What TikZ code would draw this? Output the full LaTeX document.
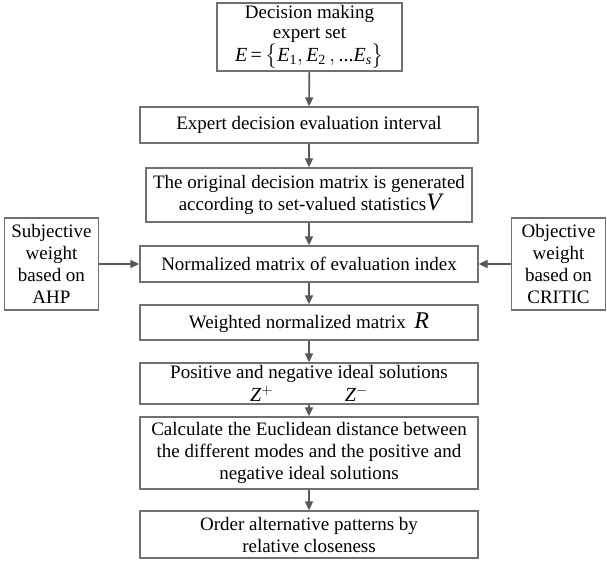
\documentclass[tikz,border=0pt]{standalone}
\usepackage{amsmath}
\usepackage{fontspec}
\setmainfont{Liberation Serif}
\usepackage{tikz}
\usetikzlibrary{arrows.meta}
\definecolor{boxgray}{RGB}{112,112,112}
\definecolor{arrgray}{RGB}{88,88,88}

\begin{document}
\begin{tikzpicture}[
  x=1pt,y=-1pt,
  box/.style={draw=boxgray,line width=1.3pt,align=center,inner sep=0pt,minimum width=338pt,font=\fontsize{19}{22}\selectfont},
  side/.style={box,minimum width=94pt,minimum height=92pt},
  arr/.style={-{Triangle[length=9pt,width=8pt]},line width=1.6pt,arrgray},
]
  \useasboundingbox (0,0) rectangle (607,561);

  \node[box,minimum width=185pt,minimum height=68pt,font=\fontsize{19}{20}\selectfont] (top) at (309.5,37) {Decision making\\expert set\\[1pt]
    {\fontsize{20}{20}\selectfont\textit{E}\,=\,$\bigl\{\textit{E}_{\textrm{1}},\textit{E}_{\textrm{2}}\,,\textrm{...}\textit{E}_{\textit{s}}\bigr\}$}};
  \node[box,minimum height=36pt] (eval) at (309,125) {Expert decision evaluation interval};
  \node[box,minimum width=326pt,minimum height=54pt] (orig) at (309,195) {The original decision matrix is generated\\
    \ according to set-valued statistics{\fontsize{25}{22}\selectfont\textit{V}}};
  \node[box,minimum height=36pt] (norm) at (309,264) {Normalized matrix of evaluation index};
  \node[box,minimum height=35pt] (wnorm) at (309,322.5) {Weighted normalized matrix {\fontsize{24}{22}\selectfont\,\textit{R}}};
  \node[box,minimum height=41pt] (ideal) at (309,383.5) {Positive and negative ideal solutions\\[1pt]
    {\fontsize{20}{18}\selectfont\textit{Z}$^{+}$\hspace{72pt}\textit{Z}$^{-}$}};
  \node[box,minimum height=72pt] (dist) at (309,453) {Calculate the Euclidean distance between\\
    the different modes and the positive and\\negative ideal solutions};
  \node[box,minimum height=47pt] (rank) at (309,534.5) {Order alternative patterns by\\relative closeness};

  \node[side] (subj) at (51.5,264) {Subjective\\weight\\based on\\AHP};
  \node[side] (obj) at (558.5,264) {Objective\\weight\\based on\\CRITIC};

  \draw[arr] (top) -- (eval);
  \draw[arr] (eval) -- (orig);
  \draw[arr] (orig) -- (norm);
  \draw[arr] (norm) -- (wnorm);
  \draw[arr] (wnorm) -- (ideal);
  \draw[arr] (ideal) -- (dist);
  \draw[arr] (dist) -- (rank);
  \draw[arr] (subj) -- (norm);
  \draw[arr] (obj) -- (norm);
\end{tikzpicture}
\end{document}
